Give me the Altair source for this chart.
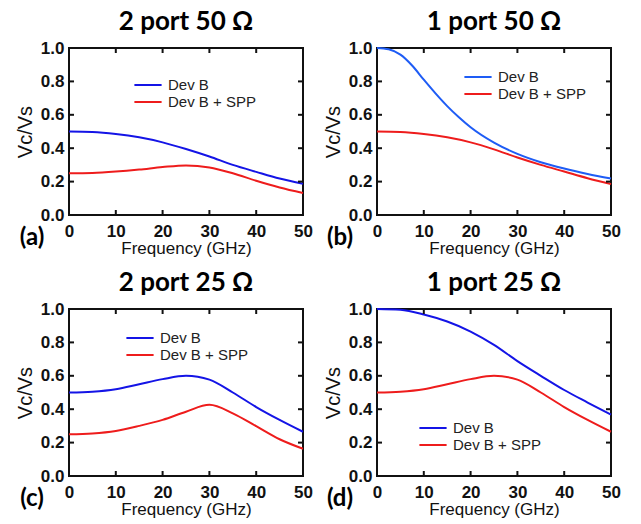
import altair as alt
import pandas as pd

# ---- data ----
FREQ = [0, 5, 10, 15, 20, 25, 30, 35, 40, 45, 50]
FREQ_FINE = [0, 2.5, 5, 7.5, 10, 12.5, 15, 17.5, 20, 25, 30, 35, 40, 45, 50]

A_DEVB = [0.50, 0.497, 0.485, 0.465, 0.435, 0.395, 0.35, 0.30, 0.258, 0.218, 0.187]
A_SPP = [0.25, 0.252, 0.26, 0.272, 0.287, 0.297, 0.285, 0.25, 0.205, 0.165, 0.132]

B_DEVB = [1.0, 0.992, 0.96, 0.895, 0.81, 0.728, 0.652, 0.585, 0.525, 0.433, 0.366, 0.316, 0.278, 0.246, 0.218]
B_SPP = [0.50, 0.497, 0.485, 0.465, 0.435, 0.393, 0.344, 0.30, 0.26, 0.22, 0.185]

C_DEVB = [0.50, 0.505, 0.52, 0.55, 0.58, 0.60, 0.577, 0.50, 0.413, 0.336, 0.265]
C_SPP = [0.25, 0.255, 0.27, 0.30, 0.336, 0.385, 0.426, 0.375, 0.298, 0.22, 0.163]

D_DEVB = [1.0, 0.995, 0.967, 0.925, 0.865, 0.785, 0.688, 0.60, 0.515, 0.44, 0.367]
D_SPP = [0.50, 0.505, 0.52, 0.55, 0.58, 0.60, 0.577, 0.50, 0.413, 0.336, 0.265]

SERIES = ["Dev B", "Dev B + SPP"]
TITLES = ["2 port 50 \u03a9", "1 port 50 \u03a9", "2 port 25 \u03a9", "1 port 25 \u03a9"]
PANEL_LABELS = ["(a)", "(b)", "(c)", "(d)"]
X_TICKS = [0, 10, 20, 30, 40, 50]
Y_TICKS = [0.0, 0.2, 0.4, 0.6, 0.8, 1.0]
X_INNER = [10, 20, 30, 40]
Y_INNER = [0.2, 0.4, 0.6, 0.8]

W, H = 234, 167
FONT = "Liberation Sans"
INK = "#111111"

XS = alt.Scale(domain=[0, 50], nice=False, zero=False)
YS = alt.Scale(domain=[0, 1], nice=False)
AX_X = alt.Axis(values=X_TICKS, format="d", labelOverlap=False, labelFlush=False)
AX_Y = alt.Axis(values=Y_TICKS, format=".1f", labelOverlap=False, labelFlush=False,
                titleFontSize=20)


def enc_x():
    return alt.X("f:Q", scale=XS, title="Frequency (GHz)", axis=AX_X)


def enc_y():
    return alt.Y("v:Q", scale=YS, title="Vc/Vs", axis=AX_Y)


def make_df(f1, v1, f2, v2):
    rows = [{"f": f, "v": v, "s": SERIES[0]} for f, v in zip(f1, v1)]
    rows += [{"f": f, "v": v, "s": SERIES[1]} for f, v in zip(f2, v2)]
    return pd.DataFrame(rows)


def panel(df, title, label, colors, lx, ly):
    lines = alt.Chart(df).mark_line(strokeWidth=2, interpolate="monotone").encode(
        x=enc_x(),
        y=enc_y(),
        color=alt.Color(
            "s:N",
            scale=alt.Scale(domain=SERIES, range=colors),
            legend=alt.Legend(
                title=None, orient="none", legendX=lx, legendY=ly,
                symbolType="M-1.7,0L1.7,0", symbolSize=256,
                symbolStrokeWidth=2, labelOffset=11, rowPadding=0,
                labelFont=FONT, labelFontSize=15, labelColor="#222222",
                padding=0,
            ),
        ),
    )
    xt = pd.DataFrame({"f": X_INNER})
    yt = pd.DataFrame({"v": Y_INNER})
    tick_bottom = alt.Chart(xt).mark_rule(color=INK, strokeWidth=2).encode(
        x=enc_x(), y=alt.value(H), y2=alt.value(H - 5))
    tick_top = alt.Chart(xt).mark_rule(color=INK, strokeWidth=2).encode(
        x=enc_x(), y=alt.value(0), y2=alt.value(5))
    tick_left = alt.Chart(yt).mark_rule(color=INK, strokeWidth=2).encode(
        y=enc_y(), x=alt.value(0), x2=alt.value(5))
    tick_right = alt.Chart(yt).mark_rule(color=INK, strokeWidth=2).encode(
        y=enc_y(), x=alt.value(W), x2=alt.value(W - 5))
    lab = alt.Chart(pd.DataFrame({"l": [label]})).mark_text(
        font="Lato", fontSize=24, fontWeight="bold", color="black",
        align="center", baseline="middle"
    ).encode(text="l:N", x=alt.value(-37), y=alt.value(H + 23))
    return alt.layer(lines, tick_bottom, tick_top, tick_left, tick_right, lab).properties(
        width=W, height=H,
        title=alt.TitleParams(title, font="Lato", fontSize=26, fontWeight="bold",
                              color="black", anchor="middle", offset=4),
    )


pa = panel(make_df(FREQ, A_DEVB, FREQ, A_SPP), TITLES[0], PANEL_LABELS[0],
           ["#1414e6", "#ee1c1c"], 70, 28)
pb = panel(make_df(FREQ_FINE, B_DEVB, FREQ, B_SPP), TITLES[1], PANEL_LABELS[1],
           ["#1e5cf5", "#ee1c1c"], 92, 20)
pc = panel(make_df(FREQ, C_DEVB, FREQ, C_SPP), TITLES[2], PANEL_LABELS[2],
           ["#1414e6", "#ee1c1c"], 62, 20)
pd_ = panel(make_df(FREQ, D_DEVB, FREQ, D_SPP), TITLES[3], PANEL_LABELS[3],
            ["#1414e6", "#ee1c1c"], 47, 110)

chart = alt.concat(pa, pb, pc, pd_, columns=2,
                   spacing=alt.RowColnumber(row=12, column=8)).resolve_scale(
    color="independent"
).properties(
    padding={"left": 6, "top": 0, "right": 0, "bottom": 0},
).configure_view(stroke=INK, strokeWidth=2).configure_axis(
    domain=False, ticks=False, tickSize=0, grid=False,
    labelFont=FONT, labelFontSize=17, labelFontWeight="bold", labelColor=INK,
    labelFlush=False, labelOverlap=False,
    titleFont=FONT, titleFontSize=17, titleFontWeight="normal", titleColor=INK,
).configure_axisX(labelPadding=8, titlePadding=1).configure_axisY(
    labelPadding=5, titlePadding=5
)

chart.save("out.html", embed_options={"renderer": "svg", "actions": False})
